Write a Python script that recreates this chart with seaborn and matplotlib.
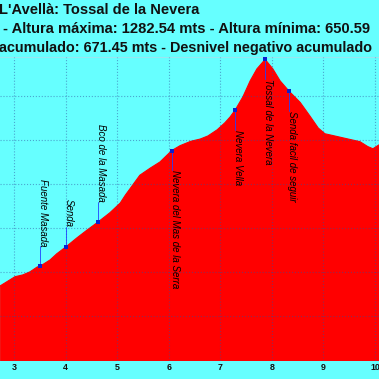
import numpy as np
import pandas as pd
import seaborn as sns
import matplotlib.pyplot as plt

# elevation profile (km, metres)
dist_km = [2.73, 3.02, 3.17, 3.31, 3.45, 3.51, 3.70, 3.83, 4.00, 4.22, 4.42, 4.63,
           4.86, 5.06, 5.16, 5.26, 5.44, 5.64, 5.83, 6.06, 6.22, 6.43, 6.61, 6.76, 6.94,
           7.09, 7.19, 7.29, 7.44, 7.58, 7.71, 7.87, 8.02, 8.16, 8.33, 8.55, 8.74,
           8.90, 9.03, 9.22, 9.52, 9.71, 9.86, 9.96, 10.08]
alt_m = [769, 790, 794, 801, 812, 814, 828, 842, 857, 878, 896, 914,
         935, 957, 975, 991, 1020, 1036, 1050, 1076, 1087, 1097, 1102, 1109, 1123,
         1139, 1152, 1168, 1198, 1234, 1261, 1282.54, 1261, 1234, 1211, 1185, 1154,
         1127, 1114, 1109, 1101, 1096, 1085, 1080, 1089]

# waypoints
wp_names = ["Fuente Masada", "Senda", "Bco de la Masada", "Nevera del Mas de la Serra",
            "Nevera Vella", "Tossal de la Nevera", "Senda facil de seguir"]
wp_km = [3.51, 4.00, 4.63, 6.06, 7.29, 7.87, 8.33]
wp_alt = [814, 857, 914, 1076, 1168, 1282.54, 1211]

km_ticks = [3, 4, 5, 6, 7, 8, 9, 10]
alt_grid = [600, 700, 800, 900, 1000, 1100, 1200]

title_1 = "L'Avellà: Tossal de la Nevera"
title_2 = "- Altura máxima: 1282.54 mts - Altura mínima: 650.59"
title_3 = "acumulado: 671.45 mts - Desnivel negativo acumulado"

profile = pd.DataFrame({"km": dist_km, "alt": alt_m})
waypoints = pd.DataFrame({"name": wp_names, "km": wp_km, "alt": wp_alt})

sns.set_theme(style="white")
plt.rcParams["font.family"] = ["Liberation Sans", "DejaVu Sans"]

bg = "#66ffff"
fig = plt.figure(figsize=(3.79, 3.79), dpi=100, facecolor=bg)
ax = fig.add_axes([0, 0.0488, 1, 0.8008])
ax.set_facecolor(bg)

ax.fill_between(profile["km"], 0, profile["alt"], color="#ff0000", lw=0, zorder=1)
sns.lineplot(data=profile, x="km", y="alt", ax=ax, color="#ff0000", lw=0.8, zorder=1.5)

ax.set_xlim(2.7285, 10.078)
ax.set_ylim(600, 1288)

ax.set_xticks(km_ticks)
ax.set_yticks(alt_grid)
ax.set_yticklabels([])
ax.tick_params(axis="x", length=0, pad=1.5, labelsize=6.4, labelcolor="#111111")
for lab in ax.get_xticklabels():
    lab.set_fontweight("bold")
ax.set_xlabel("")
ax.set_ylabel("")

ax.set_axisbelow(False)
ax.grid(True, color="#3050a0", alpha=0.5, linestyle=":", linewidth=0.8)
for side in ["left", "right", "bottom"]:
    ax.spines[side].set_visible(False)
ax.spines["top"].set_color("#99e6f0")
ax.spines["top"].set_linewidth(0.8)

# waypoint markers, leader lines and labels
off = 45
for _, r in waypoints.iterrows():
    if r["alt"] < 1000:
        end = r["alt"] + off
        ha = "right"
    else:
        end = r["alt"] - off
        ha = "left"
    ax.plot([r["km"], r["km"]], [r["alt"], end], color="#2040ff", lw=0.6, zorder=3)
    ax.text(r["km"], end, r["name"], rotation=-90, rotation_mode="anchor",
            ha=ha, va="baseline", fontsize=7, style="italic",
            color="#000000", zorder=4)
sns.scatterplot(data=waypoints, x="km", y="alt", ax=ax, color="#0a20d0", marker="s",
                s=7, linewidth=0, zorder=5)
ax.set_xlabel("")
ax.set_ylabel("")

fig.text(-1 / 379, 1 - 14 / 379, title_1, fontsize=10.5, fontweight="bold",
         ha="left", va="baseline", color="#111111")
fig.text(3 / 379, 1 - 33 / 379, title_2, fontsize=10.65, fontweight="bold",
         ha="left", va="baseline", color="#111111")
fig.text(-1 / 379, 1 - 52 / 379, title_3, fontsize=10.35, fontweight="bold",
         ha="left", va="baseline", color="#111111")

fig.savefig("out.png", dpi=100, facecolor=bg)
